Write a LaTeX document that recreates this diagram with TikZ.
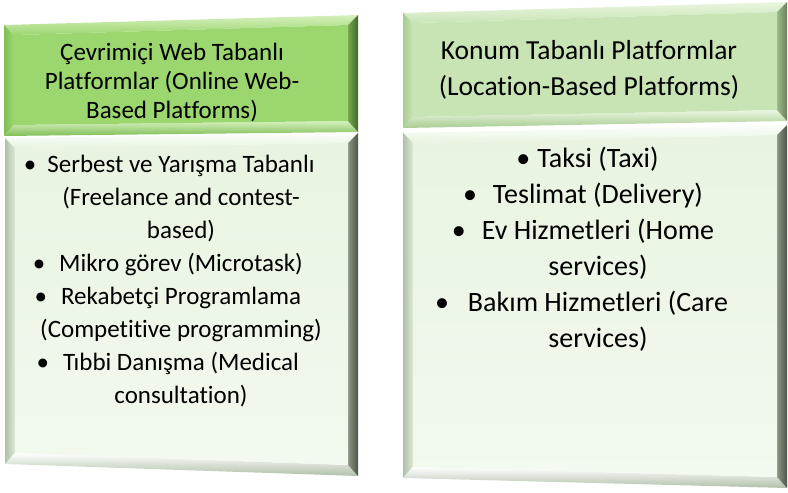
\documentclass[tikz,border=0pt]{standalone}
\usepackage{fontspec}
\setmainfont{Carlito}[Ligatures=NoCommon]
\usetikzlibrary{calc}

\definecolor{limeface}{RGB}{156,214,111}
\definecolor{limehi}{RGB}{214,240,190}
\definecolor{limemid}{RGB}{128,190,86}
\definecolor{limedark}{RGB}{66,106,40}
\definecolor{sageface}{RGB}{200,228,180}
\definecolor{sagehi}{RGB}{234,246,224}
\definecolor{sagemid}{RGB}{168,204,146}
\definecolor{sagedark}{RGB}{104,132,88}
\definecolor{mintface}{RGB}{232,244,225}
\definecolor{mintpale}{RGB}{242,249,238}
\definecolor{minthi}{RGB}{252,254,250}
\definecolor{mintmid}{RGB}{176,192,168}
\definecolor{mintdark}{RGB}{76,86,72}

% bevelled panel: name, corners (tl, tr, br, bl), colour scheme
\newcommand{\bevelpanel}[6]{%
  \coordinate (#1-tl) at (#2);
  \coordinate (#1-tr) at (#3);
  \coordinate (#1-br) at (#4);
  \coordinate (#1-bl) at (#5);
  \coordinate (#1-itl) at ($(#1-tl)+(10,10)$);
  \coordinate (#1-itr) at ($(#1-tr)+(-10,10)$);
  \coordinate (#1-ibr) at ($(#1-br)+(-10,-11)$);
  \coordinate (#1-ibl) at ($(#1-bl)+(10,-11)$);
  \path[#6 top] (#1-tl) -- (#1-tr) -- (#1-itr) -- (#1-itl) -- cycle;
  \path[#6 left] (#1-tl) -- (#1-itl) -- (#1-ibl) -- (#1-bl) -- cycle;
  \path[#6 bottom] (#1-bl) -- (#1-ibl) -- (#1-ibr) -- (#1-br) -- cycle;
  \path[#6 right] (#1-tr) -- (#1-br) -- (#1-ibr) -- (#1-itr) -- cycle;
  \path[#6 face] (#1-itl) -- (#1-itr) -- (#1-ibr) -- (#1-ibl) -- cycle;
}
\newcommand{\listdot}[1][14pt]{\llap{\textbullet\hspace{#1}}}

\begin{document}
\begin{tikzpicture}[x=1pt, y=-1pt,
    lime top/.style={top color=limehi, bottom color=limeface},
    lime left/.style={left color=limemid, right color=limeface},
    lime bottom/.style={top color=limehi, bottom color=limemid},
    lime right/.style={left color=limeface!55!limedark, right color=limedark},
    lime face/.style={fill=limeface},
    sage top/.style={top color=sagehi, bottom color=sageface},
    sage left/.style={left color=sagemid, right color=sageface},
    sage bottom/.style={top color=sagehi, bottom color=sagemid},
    sage right/.style={left color=sageface!55!sagedark, right color=sagedark},
    sage face/.style={fill=sageface},
    mint top/.style={top color=minthi, bottom color=mintface},
    mint left/.style={left color=mintmid, right color=mintface!80!mintmid},
    mint bottom/.style={top color=white, bottom color=mintmid},
    mint right/.style={left color=mintface!40!mintdark, right color=mintdark},
    mint face/.style={top color=mintface, bottom color=mintpale},
    paneltext/.style={align=center, text=black, inner sep=0pt}]

\useasboundingbox (0,0) rectangle (788,493);

% left column
\bevelpanel{webhead}{4,25}{358,15}{358,132}{4,136}{lime}
\bevelpanel{weblist}{5,138}{358,133}{358,476}{5,464}{mint}

% right column
\bevelpanel{lochead}{403,13}{787,2}{787,121}{403,128}{sage}
\bevelpanel{loclist}{403,133}{787,125}{787,488}{403,478}{mint}

\node[paneltext, font=\fontsize{25}{29}\selectfont] (webtitle) at (172,83)
  {Çevrimiçi Web Tabanlı\\Platformlar (Online Web-\\Based Platforms)};
\node[paneltext, font=\fontsize{25}{33}\selectfont] (webitems) at (181,281)
  {\listdot[11pt]Serbest ve Yarışma Tabanlı\\(Freelance and contest-\\based)\\
   \listdot Mikro görev (Microtask)\\\listdot Rekabetçi Programlama\\
   (Competitive programming)\\\listdot Tıbbi Danışma (Medical\\consultation)};

\node[paneltext, font=\fontsize{27.5}{36}\selectfont] (loctitle) at (589,70)
  {Konum Tabanlı Platformlar\\(Location-Based Platforms)};
\node[paneltext, font=\fontsize{28}{36}\selectfont] (locitems) at (598,249)
  {\listdot[7pt]Taksi (Taxi)\\\listdot[16pt]Teslimat (Delivery)\\
   \listdot[16pt]Ev Hizmetleri (Home\\services)\\
   \listdot[19pt]Bakım Hizmetleri (Care\\services)};
\end{tikzpicture}
\end{document}
